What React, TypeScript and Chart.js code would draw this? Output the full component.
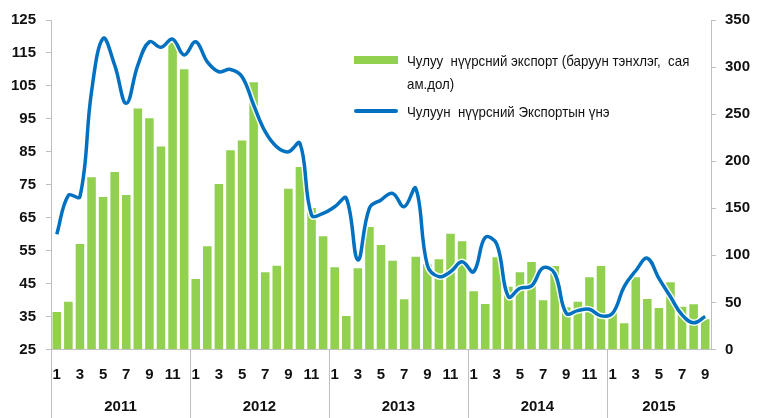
import React, { useEffect, useRef } from "react";
import { Chart, registerables } from "chart.js";

Chart.register(...registerables);

const FONT = '"Liberation Sans Narrow", "Arial Narrow", "Liberation Sans", Arial, sans-serif';

const years = ["2011", "2012", "2013", "2014", "2015"];
const monthsPerYear = [12, 12, 12, 12, 9];

// Export value, million USD (right axis)
const exportValues = [
  39.8, 50.8, 112, 183, 162, 188.5, 164, 256, 245.6, 215.5, 328, 297.6,
  75, 109.6, 175.8, 211.6, 222, 283.8, 82, 89, 170.8, 193.9, 150.3, 120.2,
  87.3, 35.6, 86.2, 130, 111, 94.3, 53.3, 98.6, 90.5, 95.8, 123, 115,
  61.8, 48.3, 98, 66.7, 82, 93, 52.3, 88.7, 44.8, 50.8, 76.7, 88.7,
  38.4, 27.8, 76.7, 53.6, 44, 71.4, 45.5, 48, 32,
];

// Export price (left axis)
const priceValues = [
  60, 71.8, 71.4, 103.2, 119.4, 111.3, 99.7, 111.3, 118.4, 116.7, 119.2, 114.4,
  118.4, 112.3, 109.3, 110, 107.8, 99.2, 91.1, 86.5, 85, 87.6, 65.8, 66.3,
  68.3, 70.9, 52.2, 67.9, 70.4, 72.4, 68.3, 73.9, 50.6, 47.1, 48.6, 51.6,
  48.6, 59, 57, 41, 43.6, 44.3, 49.8, 48.1, 36, 36.8, 37.2, 35.2,
  36, 44.1, 48.9, 52.7, 46.6, 41, 35.5, 33.1, 35,
];

const leftTicks = [25, 35, 45, 55, 65, 75, 85, 95, 105, 115, 125];
const rightTicks = [0, 50, 100, 150, 200, 250, 300, 350];

const barLabel = "Чулуу  нүүрсний экспорт (баруун тэнхлэг,  сая ам.дол)";
const barLabelLines = ["Чулуу  нүүрсний экспорт (баруун тэнхлэг,  сая", "ам.дол)"];
const lineLabel = "Чулуун  нүүрсний Экспортын үнэ";

const GREEN = "#92d050";
const BLUE = "#0070c0";
const AXIS = "#bfbfbf";
const TEXT = "#111111";

const monthLabels: string[] = [];
monthsPerYear.forEach((n) => {
  for (let m = 1; m <= n; m++) monthLabels.push(String(m));
});

const yearPlugin = {
  id: "yearGroups",
  afterDraw(chart: any) {
    const { ctx, chartArea } = chart;
    const x = chart.scales.x;
    const half = (x.getPixelForValue(1) - x.getPixelForValue(0)) / 2;
    ctx.save();
    ctx.strokeStyle = AXIS;
    ctx.lineWidth = 1;
    ctx.fillStyle = TEXT;
    ctx.font = `bold 15px ${FONT}`;
    ctx.textAlign = "center";
    ctx.textBaseline = "middle";
    let start = 0;
    years.forEach((yr, i) => {
      const n = monthsPerYear[i];
      const left = x.getPixelForValue(start) - half;
      const right = x.getPixelForValue(start + n - 1) + half;
      const lx = Math.round(left) + 0.5;
      ctx.beginPath();
      ctx.moveTo(lx, chartArea.bottom);
      ctx.lineTo(lx, chart.height);
      ctx.stroke();
      ctx.fillText(yr, (left + right) / 2, 407);
      start += n;
    });
    ctx.restore();
  },
};

export default function App() {
  const ref = useRef<HTMLCanvasElement | null>(null);

  useEffect(() => {
    document.body.style.margin = "0";
    if (!ref.current) return;
    Chart.defaults.font.family = FONT;
    const chart = new Chart(ref.current, {
      type: "bar",
      data: {
        labels: monthLabels,
        datasets: [
          {
            type: "line",
            label: lineLabel,
            data: priceValues,
            yAxisID: "y",
            borderColor: BLUE,
            borderWidth: 3.5,
            pointRadius: 0,
            tension: 0.4,
            fill: false,
            order: 0,
          },
          {
            type: "line",
            label: "halo",
            data: priceValues,
            yAxisID: "y",
            borderColor: "rgba(255,255,255,0.9)",
            borderWidth: 6.5,
            pointRadius: 0,
            tension: 0.4,
            fill: false,
            order: 1,
          },
          {
            type: "bar",
            label: barLabel,
            data: exportValues,
            yAxisID: "y1",
            backgroundColor: GREEN,
            barPercentage: 0.74,
            categoryPercentage: 1,
            order: 2,
          },
        ] as any,
      },
      plugins: [yearPlugin],
      options: {
        responsive: false,
        animation: false,
        layout: { padding: { top: 20, left: 0, right: 0, bottom: 0 } },
        plugins: {
          legend: { display: false },
          tooltip: { enabled: false },
        },
        scales: {
          x: {
            offset: true,
            grid: { display: false, drawTicks: false },
            border: { display: true, color: AXIS, width: 1 },
            ticks: {
              autoSkip: false,
              maxRotation: 0,
              padding: 16,
              color: TEXT,
              font: { size: 15, weight: "bold" },
              callback: (_v: any, i: number) => (Number(monthLabels[i]) % 2 === 1 ? monthLabels[i] : ""),
            },
            afterFit: (s: any) => {
              s.height = 68.5;
            },
          },
          y: {
            position: "left",
            min: 25,
            max: 125,
            afterBuildTicks: (s: any) => {
              s.ticks = leftTicks.map((v) => ({ value: v }));
            },
            grid: { drawOnChartArea: false, drawTicks: true, tickLength: 5, color: AXIS },
            border: { display: true, color: AXIS, width: 1 },
            ticks: {
              padding: 10,
              color: TEXT,
              font: { size: 15, weight: "bold" },
            },
            afterFit: (s: any) => {
              s.width = 51;
            },
          },
          y1: {
            position: "right",
            min: 0,
            max: 350,
            afterBuildTicks: (s: any) => {
              s.ticks = rightTicks.map((v) => ({ value: v }));
            },
            grid: { drawOnChartArea: false, drawTicks: true, tickLength: 5, color: AXIS },
            border: { display: true, color: AXIS, width: 1 },
            ticks: {
              padding: 9,
              color: TEXT,
              font: { size: 15, weight: "bold" },
            },
            afterFit: (s: any) => {
              s.width = 49;
            },
          },
        },
      } as any,
    });
    return () => chart.destroy();
  }, []);

  const textStyle: React.CSSProperties = {
    position: "absolute",
    left: 407,
    fontFamily: FONT,
    fontSize: 15,
    color: TEXT,
    whiteSpace: "pre",
    lineHeight: "23px",
    transform: "scaleX(0.885)",
    transformOrigin: "left top",
  };

  return (
    <div style={{ position: "relative", width: 760, height: 418, background: "#fff" }}>
      <canvas ref={ref} width={760} height={418} style={{ display: "block" }} />
      <div style={{ position: "absolute", left: 354, top: 56, width: 44, height: 8, background: GREEN }} />
      <div style={{ ...textStyle, top: 49 }}>
        {barLabelLines[0]}
        <br />
        {barLabelLines[1]}
      </div>
      <div style={{ position: "absolute", left: 354, top: 109, width: 44, height: 4, background: BLUE, borderRadius: 2 }} />
      <div style={{ ...textStyle, top: 100 }}>{lineLabel}</div>
    </div>
  );
}
